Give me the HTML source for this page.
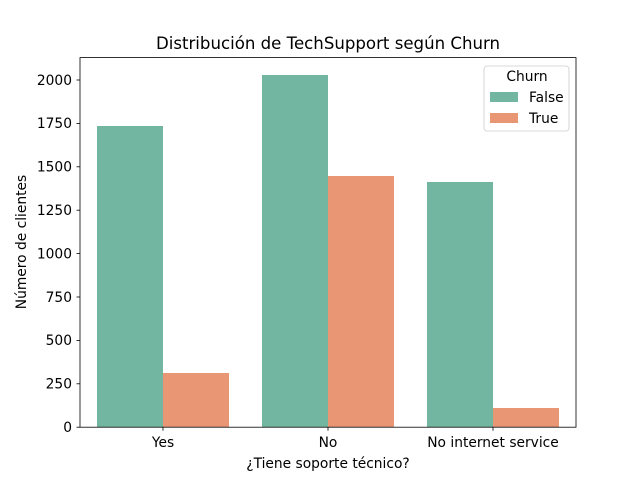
<!DOCTYPE html>
<html><head><meta charset="utf-8"><style>body{margin:0;background:#fff}svg{display:block}text{font-family:"DejaVu Sans","Liberation Sans",sans-serif;fill:#000}</style></head>
<body>
<svg width="640" height="480" viewBox="0 0 640 480" xmlns="http://www.w3.org/2000/svg">
<rect width="640" height="480" fill="#fff"/>
<g fill="#72b6a1">
<rect x="97" y="126" width="66" height="301.2"/>
<rect x="262" y="75" width="66" height="352.2"/>
<rect x="427" y="182" width="66" height="245.2"/>
</g>
<g fill="#e99675">
<rect x="163" y="373" width="66" height="54.2"/>
<rect x="328" y="176" width="66" height="251.2"/>
<rect x="493" y="408" width="66" height="19.2"/>
</g>
<rect x="80" y="57.6" width="496" height="369.6" fill="none" stroke="#000" stroke-width="0.8"/>
<g stroke="#000" stroke-width="0.8">
<line x1="76.5" x2="80" y1="427.2" y2="427.2"/>
<line x1="76.5" x2="80" y1="383.8" y2="383.8"/>
<line x1="76.5" x2="80" y1="340.4" y2="340.4"/>
<line x1="76.5" x2="80" y1="297.0" y2="297.0"/>
<line x1="76.5" x2="80" y1="253.6" y2="253.6"/>
<line x1="76.5" x2="80" y1="210.2" y2="210.2"/>
<line x1="76.5" x2="80" y1="166.8" y2="166.8"/>
<line x1="76.5" x2="80" y1="123.4" y2="123.4"/>
<line x1="76.5" x2="80" y1="80.0" y2="80.0"/>
<line x1="163" x2="163" y1="427.2" y2="430.7"/>
<line x1="328" x2="328" y1="427.2" y2="430.7"/>
<line x1="493" x2="493" y1="427.2" y2="430.7"/>
</g>
<g font-size="13.8" text-anchor="end">
<text x="72" y="432">0</text>
<text x="72" y="388.6">250</text>
<text x="72" y="345.2">500</text>
<text x="72" y="301.8">750</text>
<text x="72" y="258.4">1000</text>
<text x="72" y="215">1250</text>
<text x="72" y="171.6">1500</text>
<text x="72" y="128.2">1750</text>
<text x="72" y="84.8">2000</text>
</g>
<g font-size="13.8" text-anchor="middle">
<text x="163" y="447">Yes</text>
<text x="328" y="447">No</text>
<text x="493" y="447">No internet service</text>
<text x="328" y="468">¿Tiene soporte técnico?</text>
<text x="328" y="49" font-size="16.6">Distribución de TechSupport según Churn</text>
<text transform="translate(26,242) rotate(-90)">Número de clientes</text>
</g>
<rect x="484" y="66" width="85" height="65" rx="3" fill="#fff" fill-opacity="0.8" stroke="#ccc" stroke-width="0.8"/>
<text x="527" y="81" font-size="13.8" text-anchor="middle">Churn</text>
<rect x="490" y="92" width="28" height="10" fill="#72b6a1"/>
<rect x="490" y="113" width="28" height="10" fill="#e99675"/>
<text x="529" y="102" font-size="13.8">False</text>
<text x="529" y="123" font-size="13.8">True</text>
</svg>
</body></html>
